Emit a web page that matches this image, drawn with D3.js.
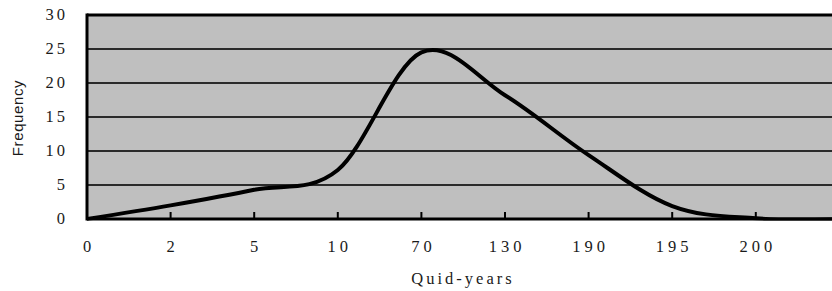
<!DOCTYPE html>
<html>
<head>
<meta charset="utf-8">
<script src="https://cdn.jsdelivr.net/npm/d3@7"></script>
<style>
  html, body { margin: 0; padding: 0; background: #fff; overflow: hidden; }
</style>
</head>
<body>
<div id="chart"></div>
<script>
// categories on the x axis (last one is past the visible edge, unlabeled)
const categories = ['0', '2', '5', '10', '70', '130', '190', '195', '200', ''];
const frequency = [0, 2.0, 4.3, 7.2, 24.5, 18.2, 9.4, 1.9, 0.1, 0];
const yTicks = [0, 5, 10, 15, 20, 25, 30];

const W = 832, H = 291;
const margin = { top: 15, left: 87, bottom: 72 };
const step = 83.6;

const svg = d3.select('#chart').append('svg')
    .attr('width', W).attr('height', H);

const x = d3.scalePoint()
    .domain(categories)
    .range([margin.left, margin.left + step * (categories.length - 1)]);
const y = d3.scaleLinear().domain([0, 30]).range([H - margin.bottom, margin.top]);

const plotRight = x(categories[categories.length - 1]) + 10;

// clip the curve to the plot area (like the original chart)
svg.append('clipPath').attr('id', 'plot-clip')
    .append('rect')
    .attr('x', margin.left).attr('y', y(30))
    .attr('width', plotRight - margin.left).attr('height', y(0) - y(30) + 1.5);

// plot background
svg.append('rect')
    .attr('x', margin.left).attr('y', y(30))
    .attr('width', plotRight - margin.left).attr('height', y(0) - y(30))
    .attr('fill', '#bfbfbf');

// gridlines
svg.append('g')
    .selectAll('line')
    .data(yTicks.filter(d => d > 0 && d < 30))
    .join('line')
    .attr('x1', margin.left).attr('x2', plotRight)
    .attr('y1', d => y(d)).attr('y2', d => y(d))
    .attr('stroke', '#2a2a2a').attr('stroke-width', 2);

// border: top and left heavy, bottom axis
svg.append('line')
    .attr('x1', margin.left).attr('x2', plotRight)
    .attr('y1', y(30)).attr('y2', y(30))
    .attr('stroke', '#000').attr('stroke-width', 3);
svg.append('line')
    .attr('x1', margin.left).attr('x2', margin.left)
    .attr('y1', y(30) - 1.5).attr('y2', y(0) + 1.5)
    .attr('stroke', '#000').attr('stroke-width', 3);
svg.append('line')
    .attr('x1', margin.left).attr('x2', plotRight)
    .attr('y1', y(0)).attr('y2', y(0))
    .attr('stroke', '#000').attr('stroke-width', 3);

// x tick marks, pointing up into the plot
svg.append('g')
    .selectAll('line')
    .data(categories.slice(1))
    .join('line')
    .attr('x1', d => x(d)).attr('x2', d => x(d))
    .attr('y1', y(0)).attr('y2', y(0) - 7)
    .attr('stroke', '#000').attr('stroke-width', 2);

// the curve
const line = d3.line()
    .curve(d3.curveCatmullRom.alpha(0))
    .x((d, i) => x(categories[i]))
    .y(d => y(d));

svg.append('path')
    .datum(frequency)
    .attr('clip-path', 'url(#plot-clip)')
    .attr('fill', 'none')
    .attr('stroke', '#000')
    .attr('stroke-width', 4)
    .attr('stroke-linejoin', 'round')
    .attr('d', line);

// y tick labels
svg.append('g')
    .selectAll('text')
    .data(yTicks)
    .join('text')
    .attr('x', 68)
    .attr('y', d => y(d) + 5)
    .attr('text-anchor', 'end')
    .attr('font-family', '"Liberation Serif", serif')
    .attr('font-size', '16.5px')
    .attr('letter-spacing', '3px')
    .attr('fill', '#1a1a1a')
    .text(d => d);

// x tick labels
svg.append('g')
    .selectAll('text')
    .data(categories.filter(d => d !== ''))
    .join('text')
    .attr('x', d => x(d) + 2)
    .attr('y', 252)
    .attr('text-anchor', 'middle')
    .attr('font-family', '"Liberation Serif", serif')
    .attr('font-size', '16.5px')
    .attr('letter-spacing', '4px')
    .attr('fill', '#1a1a1a')
    .text(d => d);

// axis titles
svg.append('text')
    .attr('x', 463)
    .attr('y', 284)
    .attr('text-anchor', 'middle')
    .attr('font-family', '"Liberation Serif", serif')
    .attr('font-size', '16.5px')
    .attr('letter-spacing', '3px')
    .attr('fill', '#1a1a1a')
    .text('Quid-years');

svg.append('text')
    .attr('transform', 'translate(23,118) rotate(-90)')
    .attr('text-anchor', 'middle')
    .attr('font-family', '"Liberation Sans", Arial, sans-serif')
    .attr('font-size', '15px')
    .attr('letter-spacing', '0.6px')
    .attr('fill', '#1a1a1a')
    .text('Frequency');
</script>
</body>
</html>
